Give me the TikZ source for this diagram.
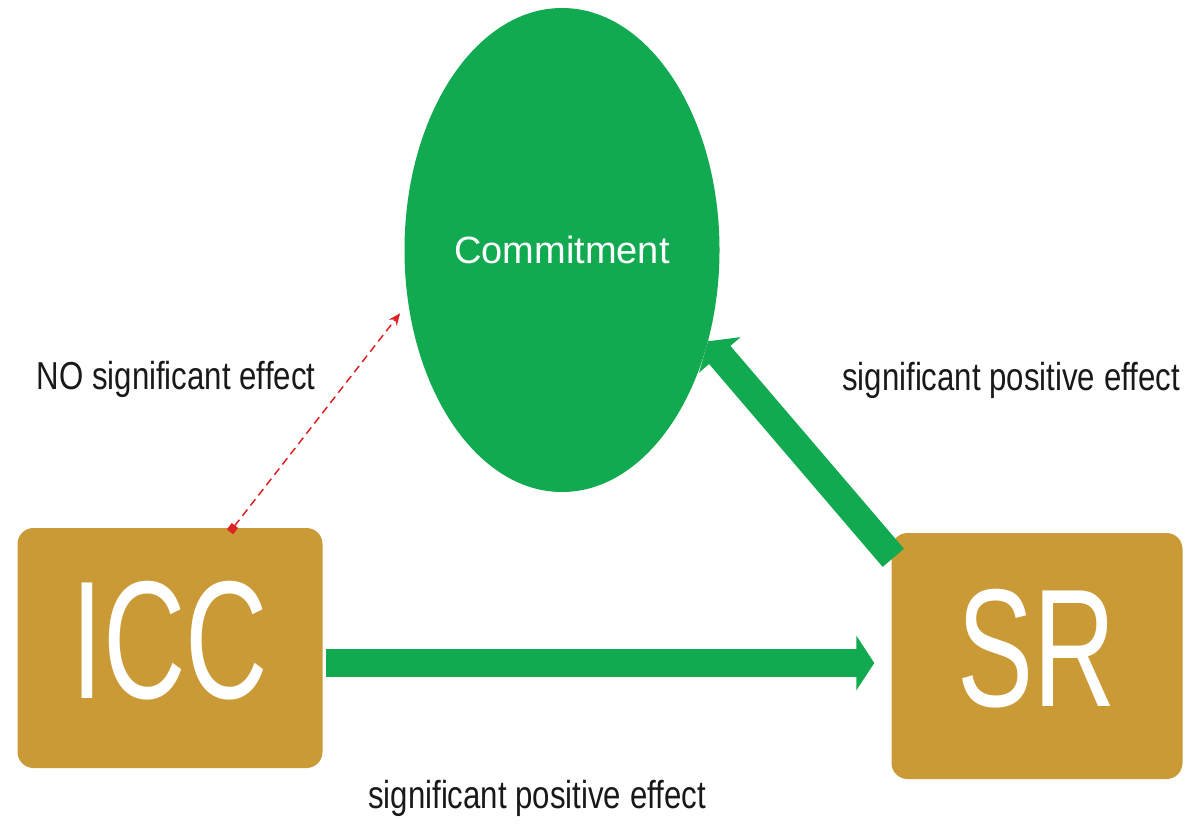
\documentclass[tikz,border=0pt]{standalone}
\usepackage{fontspec}
\setmainfont{Liberation Sans}
\newfontfamily\narrowfont[FakeStretch=0.8]{Liberation Sans}
\newfontfamily\boxfont[FakeStretch=0.68]{Liberation Sans}
\usetikzlibrary{shapes.geometric, arrows.meta, calc}
\definecolor{pptgreen}{RGB}{18,170,80}
\definecolor{pptgold}{RGB}{202,154,54}
\definecolor{dashred}{RGB}{220,35,35}
\begin{document}
\begin{tikzpicture}[x=1pt, y=-1pt, main/.style = {fill=pptgold, rounded corners=16pt, minimum width=305pt, minimum height=240pt, text=white, font=\boxfont\fontsize{168}{170}\selectfont, text height=120pt, text depth=20pt}, oval/.style = {ellipse, fill=pptgreen, minimum width=315pt, minimum height=484pt, text=white, font=\fontsize{38}{44}\selectfont}, lbl/.style = {font=\narrowfont\fontsize{39}{45}\selectfont, text=black!90}, effect/.style = {draw=pptgreen, line width=28pt, -{Triangle[length=18pt, width=54pt]}}, noeffect/.style = {draw=dashred, line width=1.5pt, dash pattern=on 8pt off 5pt, {Square[length=8pt, width=8pt]}-{Stealth[length=12pt, width=10pt]}}]
    \useasboundingbox (0,0) rectangle (1196,828);
    \node[oval] (commit) at (562,250) {Commitment};
    \node[main] (icc) at (170,648) {ICC};
    \node[main, minimum width=291pt, minimum height=246pt] (sr) at (1037,656) {SR};
    \node[lbl] (lno) at (176,379) {NO significant effect};
    \node[lbl] (lsr) at (1011,380) {significant positive effect};
    \node[lbl] (lbot) at (537,798) {significant positive effect};
    \draw[effect] ($(icc.east)+(3,15)$) -- ($(sr.west)+(-17,7)$);
    \draw[effect] ($(sr.north west)+(2,25)$) -- (commit.-32);
    \draw[noeffect, shorten >=13pt] ($(icc.north)+(60,4)$) -- (commit.199);
\end{tikzpicture}
\end{document}
